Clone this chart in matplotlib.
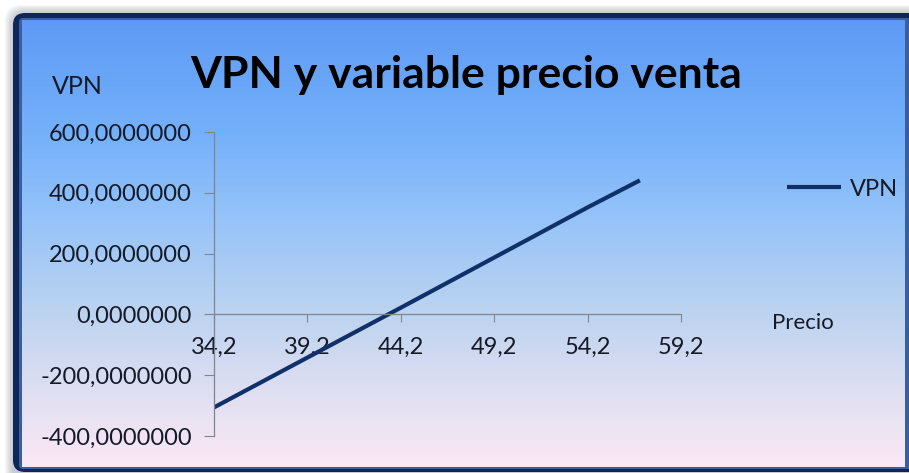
import numpy as np
import matplotlib
matplotlib.use("Agg")
import matplotlib.pyplot as plt
from matplotlib.colors import LinearSegmentedColormap
from matplotlib.patches import FancyBboxPatch
from matplotlib.ticker import FuncFormatter

plt.rcParams['font.family'] = ['Lato', 'DejaVu Sans']

# Datos
precio = [34.2, 39.2, 44.2, 49.2, 54.2, 57.0]
vpn = [-306, -142, 22, 187, 352, 441]
x_ticks = [34.2, 39.2, 44.2, 49.2, 54.2, 59.2]
y_ticks = [-400, -200, 0, 200, 400, 600]

W, H = 909, 473
fig = plt.figure(figsize=(W / 100, H / 100), dpi=100)

# =========================
# FONDO (marco + degradado)
# =========================
bg = fig.add_axes([0, 0, 1, 1])
bg.axis('off')

# sombra
for i in range(8):
    bg.add_patch(FancyBboxPatch((12 - i, 12 - i), 920 + 2 * i, 470 + 2 * i,
                                boxstyle="round,pad=0,rounding_size=16",
                                fc='#7a8090', ec='none', alpha=0.06, zorder=1))

# marco azul oscuro
bg.add_patch(FancyBboxPatch((13, 13), 920, 459,
                            boxstyle="round,pad=0,rounding_size=12",
                            fc='#0e2658', ec='none', zorder=2))
bg.add_patch(FancyBboxPatch((19, 18), 910, 451,
                            boxstyle="round,pad=0,rounding_size=4",
                            fc='#3a5f9e', ec='none', zorder=3))

cmap = LinearSegmentedColormap.from_list('fondo', [
    (0.0, '#5e9af4'),
    (0.25, '#74b0fa'),
    (0.45, '#96c4f8'),
    (0.65, '#bcd3f0'),
    (0.85, '#e2e0f2'),
    (1.0, '#fce8f6'),
])
grad = np.linspace(0, 1, 256).reshape(-1, 1)
bg.imshow(grad, extent=[22, 905, 467, 21], aspect='auto', cmap=cmap,
          interpolation='bicubic', zorder=4)
bg.set_xlim(0, W)
bg.set_ylim(H, 0)

# =========================
# GRÁFICO
# =========================
ax = fig.add_axes([214 / W, 1 - 436 / H, (681 - 214) / W, (436 - 132) / H])
ax.patch.set_alpha(0)

ax.plot(precio, vpn, color='#10306a', linewidth=3.0, label='VPN',
        solid_capstyle='butt')

ax.set_xlim(34.2, 59.2)
ax.set_ylim(-400, 600)
ax.set_xticks(x_ticks)
ax.set_yticks(y_ticks)
ax.xaxis.set_major_formatter(FuncFormatter(lambda v, p: f"{v:.1f}".replace('.', ',')))
ax.yaxis.set_major_formatter(FuncFormatter(lambda v, p: f"{v:.7f}".replace('.', ',')))

for s in ['top', 'right']:
    ax.spines[s].set_visible(False)
ax.spines['bottom'].set_position(('data', 0))
for s in ['left', 'bottom']:
    ax.spines[s].set_color('#7f8590')
    ax.spines[s].set_linewidth(0.9)

ax.tick_params(axis='y', length=7, color='#7f8590', pad=9,
               labelsize=17, labelcolor='#151a28')
ax.tick_params(axis='x', direction='out', length=6, color='#7f8590', pad=10,
               labelsize=17, labelcolor='#151a28')

# títulos y etiquetas
fig.text(466 / W, 1 - 88 / H, 'VPN y variable precio venta', ha='center',
         va='baseline', fontsize=32, fontweight='bold', color='#000000')
fig.text(77 / W, 1 - 87 / H, 'VPN', ha='center', va='center',
         fontsize=18, color='#151a28')
fig.text(803 / W, 1 - 323 / H, 'Precio', ha='center', va='center',
         fontsize=16, color='#151a28')

ax.legend(loc='center left', bbox_to_anchor=(787 / W, 1 - 189 / H),
          bbox_transform=fig.transFigure, frameon=False, fontsize=17,
          handlelength=2.3, handletextpad=0.35, borderpad=0,
          borderaxespad=0, labelcolor='#151a28')

fig.savefig('out.png', dpi=100)
